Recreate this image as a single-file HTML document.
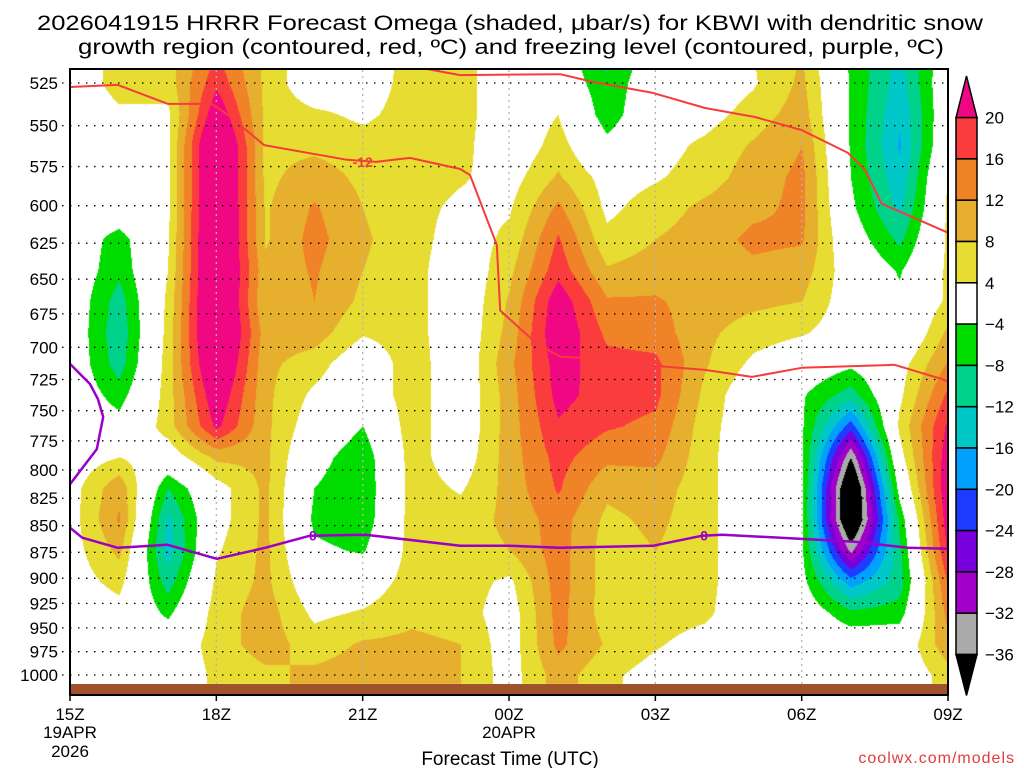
<!DOCTYPE html>
<html><head><meta charset="utf-8"><title>HRRR Omega KBWI</title>
<style>
html,body{margin:0;padding:0;background:#fff;}
#wrap{position:relative;width:1024px;height:768px;overflow:hidden;font-family:"Liberation Sans",sans-serif;}
#fill{position:absolute;left:0;top:0;}
#ov{position:absolute;left:0;top:0;}
text{font-family:"Liberation Sans",sans-serif;}
</style></head>
<body>
<div id="wrap">
<canvas id="fill" width="1024" height="768"></canvas>
<svg id="ov" width="1024" height="768" viewBox="0 0 1024 768">
  <text x="37" y="30" textLength="946" lengthAdjust="spacingAndGlyphs" font-size="21" fill="#000">2026041915 HRRR Forecast Omega (shaded, μbar/s) for KBWI with dendritic snow</text>
  <text x="78" y="54" textLength="866" lengthAdjust="spacingAndGlyphs" font-size="21" fill="#000">growth region (contoured, red, ºC) and freezing level (contoured, purple, ºC)</text>
  <g id="grid"></g>
  <rect x="70" y="684" width="878" height="11" fill="#a0522d"/>
  <g id="lines"></g>
  <rect x="70" y="69" width="878" height="626" fill="none" stroke="#000" stroke-width="2"/>
  <g id="yaxis"></g>
  <g id="xaxis"></g>
  <text x="510" y="765" text-anchor="middle" font-size="19" fill="#000">Forecast Time (UTC)</text>
  <text x="1015" y="763" text-anchor="end" font-size="16" fill="#e03c3c" letter-spacing="1">coolwx.com/models</text>
  <g id="cbar"></g>
</svg>
</div>
<script>
// ---- data ----
const hours = [0,1,2,3,4,5,6,7,8,9,10,11,12,13,14,15,16,17,18];
const pressureLevels = [507.6,525,543.1,561.9,581.3,601.3,622.0,643.5,665.6,688.7,712.4,737.0,762.4,788.7,815.9,844.0,873.3,903.4,934.5,966.7,1000];
const yTickLabels = [525,550,575,600,625,650,675,700,725,750,775,800,825,850,875,900,925,950,975,1000];
const xTickHours = [0,3,6,9,12,15,18];
const xTickLabels = ["15Z","18Z","21Z","00Z","03Z","06Z","09Z"];
const levels = [-36,-32,-28,-24,-20,-16,-12,-8,-4,4,8,12,16,20];
const levelColors = ["#000000","#aaaaaa","#a000c8","#7800dc","#1e3cff","#00a0ff","#00c8c8","#00d28c","#00dc00","#ffffff","#e6dc32","#e6af2d","#f08228","#fa3c3c","#f00882"];
const om0 = [0,0,0,0,0,0,0,0,0,0,0,0,0,1,2,2,2,1.5,0,0,0];
const om1 = [6,6,3,0,0,0,-6,-7,-10,-11,-10,-6,-2,4,11,12.5,9,5.5,2,0,0];
const om2 = [6,6,3,3,3,3,3.5,4,5,5.5,6,6,6,1,-8,-13,-14,-10,-5,0,0];
const om3 = [16,19,24,30,30,30,30,30,30,30,28,24,21,9,2,2,3.5,5,6,6,5];
const om4 = [7,7,7,7,7,7.5,7.5,9,8,10,9,9,9,9,9,9,9,9,10,10,7];
const om5 = [0,0,5,7,10,12.5,13.5,12.5,12,10,6,3,0.9,-2,-4,-5,-3,0,3,6,9];
const om6 = [0,1,3,6,7,8,8.5,8,7,4.5,0,0,-4,-7,-7.5,-7,-4.5,1,4.5,8.5,10];
const om7 = [6,6,6,6,6,5.5,6,6,6,6,6.5,6.5,6.5,6,6,6,6,6,7,9,10];
const om8 = [6,6,6,5.5,4.5,3,1.5,0,0,0,0,0,0,1,3.5,6,6,6,6,8,8];
const om9 = [0,0,0,0,2,3.5,5,7,8.5,9.5,11,10,10,10,9.5,9,8,3,1.5,1.5,2];
const om10 = [0,0,4,6,8.5,13,16.5,18.5,23,24,22,21.5,19.5,17.5,16.5,14,14,14,13.5,13,10];
const om11 = [-10,-7,-6.5,-2.5,2,3,5,8.5,12.5,15,17.5,18,16.5,13,9,7,6,6,6,7.5,5];
const om12 = [0,0,1,2,3.5,6,8,10,12.5,14,17,17,15,13,10,9,8,6,6,4.5,2];
const om13 = [0,0,2,5,6,9,10,10,10,9,8.5,7,6,5.5,5.5,5.5,5.5,5.5,5,2,0];
const om14 = [4,3.5,6,8.5,10,11,13,11,9,6,3,0,0,0,0,0,0,0,0,0,0];
const om15 = [8,9,10,12,13,13,12.5,10,8,4.5,0,-3.5,-3.5,-3.5,-3.5,-3.5,-3.5,-2.5,0,0,0];
const om16 = [-5,-4.5,-4.5,-4.5,-4,-3,-1,1,1,1,-3,-10,-22,-36,-45,-45,-33,-18,-7,0,0];
const om17 = [-13,-14,-15.5,-16.5,-15,-13,-9,-4.5,-3,-2.5,2,3,5,2,-2,-7,-9,-10,-6,0,0];
const om18 = [0,1,1,2,4.5,5,5,5,5,9,12.5,17,21,23,24,23,21,16.5,13.5,11,6];
const omegaByHour = [om0,om1,om2,om3,om4,om5,om6,om7,om8,om9,om10,om11,om12,om13,om14,om15,om16,om17,om18];
// contour lines as [hour, pressure]
const dgzUpperHours = [0,0.98,2.01,2.91,3.24,3.98,5.68,6.27,6.97,8.0,8.2,8.75,8.82,9.57,10.05,10.46,11.99,13.02,13.98,15.0,16.9,17.87,18];
const dgzUpperPres = [527.3,526.1,537.1,537.1,543.6,561.7,570.8,572.1,569.6,576.5,580.3,626.2,672.5,697.3,707.3,708.1,714.3,717.4,722.9,715.8,713.5,724.5,726.8];
const dgzTopHours = [7.32,8.0,10.05,10.72,11.95,13.02,14.04,15.0,15.95,16.3,16.64,17.06,18];
const dgzTopPres = [516.5,520.5,520,524.4,530.7,539.5,544.8,552.6,566.5,577.2,598.7,604.6,617.9];
const frzLoopHours = [0,0.41,0.57,0.68,0.55,0];
const frzLoopPres = [712.8,728.5,740.4,755.1,782.0,812.5];
const frzMainHours = [0,0.25,0.98,1.99,3.01,4.0,4.92,6.05,8.0,9.02,10.05,11.95,12.96,13.37,16.09,17.18,18];
const frzMainPres = [851.9,861.2,870.7,867.8,881.2,870.7,859.3,858.4,868.8,868.8,870.7,868.8,859.3,858.4,865.0,870.7,871.6];

// ---- axes (log-pressure vertical) ----
const X0=70, PXH=48.78;
function xOf(h){return X0+h*PXH;}
function yOf(p){return 83+918.7*Math.log(p/525);}
function hOf(x){return (x-X0)/PXH;}

const rowY = pressureLevels.map(yOf);
function hex(c){return [parseInt(c.substr(1,2),16),parseInt(c.substr(3,2),16),parseInt(c.substr(5,2),16)];}
const rgbs = levelColors.map(hex);
function valAtXY(x,y){
  let h=Math.max(0,Math.min(18,hOf(x)));
  let r0=0; while(r0<rowY.length-2 && y>rowY[r0+1]) r0++;
  let fr=(y-rowY[r0])/(rowY[r0+1]-rowY[r0]); fr=Math.max(0,Math.min(1,fr));
  const h0=Math.min(17,Math.floor(h)), fh=h-h0;
  const a=omegaByHour[h0][r0], b=omegaByHour[h0+1][r0], c=omegaByHour[h0][r0+1], d=omegaByHour[h0+1][r0+1];
  return (a*(1-fh)+b*fh)*(1-fr)+(c*(1-fh)+d*fh)*fr;
}
// ---- shading ----
(function(){
  const cv=document.getElementById('fill'), ctx=cv.getContext('2d');
  const x1=70,x2=948,y1=69,y2=684;
  const img=ctx.createImageData(x2-x1,y2-y1);
  for(let y=y1;y<y2;y++){
    for(let x=x1;x<x2;x++){
      const v=valAtXY(x,y);
      let i=0; while(i<levels.length && v>=levels[i]) i++;
      const c=rgbs[i], k=((y-y1)*(x2-x1)+(x-x1))*4;
      img.data[k]=c[0];img.data[k+1]=c[1];img.data[k+2]=c[2];img.data[k+3]=255;
    }
  }
  ctx.putImageData(img,x1,y1);
})();
const NS='http://www.w3.org/2000/svg';
function mk(tag,attrs,parent){const e=document.createElementNS(NS,tag);for(const k in attrs)e.setAttribute(k,attrs[k]);parent.appendChild(e);return e;}
// grid
const grid=document.getElementById('grid');
yTickLabels.forEach(function(p){
  const l=mk('line',{x1:62,x2:948,y1:yOf(p),y2:yOf(p),stroke:'#000','stroke-width':1.3,'stroke-dasharray':'1.5 6.5'},grid);
  
  
});
xTickHours.slice(1,-1).forEach(function(h){
  const l=mk('line',{x1:xOf(h),x2:xOf(h),y1:70,y2:684,stroke:'#b4b4b4','stroke-width':1.3,'stroke-dasharray':'2 4'},grid);
  
  
});
// y axis
const ya=document.getElementById('yaxis');
yTickLabels.forEach(function(p){
  const t=mk('text',{x:58,y:yOf(p)+6,'text-anchor':'end','font-size':17,fill:'#000'},ya);
  t.textContent=p;
  
  
});
// x axis
const xa=document.getElementById('xaxis');
xTickHours.forEach(function(h,i){
  const tk=mk('line',{x1:xOf(h),x2:xOf(h),y1:695,y2:701,stroke:'#000','stroke-width':1.5},xa);
  
  
  const t=mk('text',{x:xOf(h),y:720,'text-anchor':'middle','font-size':17,fill:'#000'},xa);
  t.textContent=xTickLabels[i];
  
  
});
[["19APR",0,738],["2026",0,757],["20APR",9,738]].forEach(function(d){
  const t=mk('text',{x:xOf(d[1]),y:d[2],'text-anchor':'middle','font-size':17,fill:'#000'},xa);
  t.textContent=d[0];
  
  
});
// contour lines
const ln=document.getElementById('lines');
function poly(hs,ps,color,w,name){
  const pts=hs.map(function(h,i){return xOf(h).toFixed(1)+','+Math.max(69,yOf(ps[i])).toFixed(1);}).join(' ');
  const e=mk('polyline',{points:pts,fill:'none',stroke:color,'stroke-width':w,'stroke-linejoin':'round'},ln);
  
  
}
poly(dgzUpperHours,dgzUpperPres,'#f53c3c',2,'dgz-minus12-contour');
poly(dgzTopHours,dgzTopPres,'#f53c3c',2,'dgz-minus12-contour-upper');
poly(frzLoopHours,frzLoopPres,'#9a00c8',2.5,'freezing-level-loop');
poly(frzMainHours,frzMainPres,'#9a00c8',2.5,'freezing-level-contour');
function lab(h,p,txt,color,name){
  const t=mk('text',{x:xOf(h),y:yOf(p)+5,'text-anchor':'middle','font-size':14,'font-weight':'bold',fill:color},ln);
  t.textContent=txt;
  
  
}
lab(6.0,572,'-12','#f53c3c','dgz-contour-label');
lab(4.98,859,'0','#9a00c8','freezing-contour-label');
lab(13.0,859,'0','#9a00c8','freezing-contour-label');
// colorbar
const cb=document.getElementById('cbar');
const cbX=956,cbW=21,cbTop=117.6,cbStep=41.3;
const nBox=levels.length-1;
const t1=mk('polygon',{points:cbX+','+cbTop+' '+(cbX+cbW)+','+cbTop+' '+(cbX+cbW/2)+',76',fill:levelColors[levelColors.length-1],stroke:'#000','stroke-width':1.5},cb);


for(let i=0;i<nBox;i++){
  const r=mk('rect',{x:cbX,y:cbTop+i*cbStep,width:cbW,height:cbStep,fill:levelColors[levelColors.length-2-i],stroke:'#000','stroke-width':1.5},cb);
  
  
}
const yb=cbTop+nBox*cbStep;
const t2=mk('polygon',{points:cbX+','+yb+' '+(cbX+cbW)+','+yb+' '+(cbX+cbW/2)+','+(yb+41),fill:levelColors[0],stroke:'#000','stroke-width':1.5},cb);


for(let i=0;i<levels.length;i++){
  const v=levels[levels.length-1-i];
  const t=mk('text',{x:985,y:cbTop+i*cbStep+6,'font-size':17,fill:'#000'},cb);
  t.textContent=v<0?('\u2212'+(-v)):String(v);
  
  
}
</script>
</body></html>
